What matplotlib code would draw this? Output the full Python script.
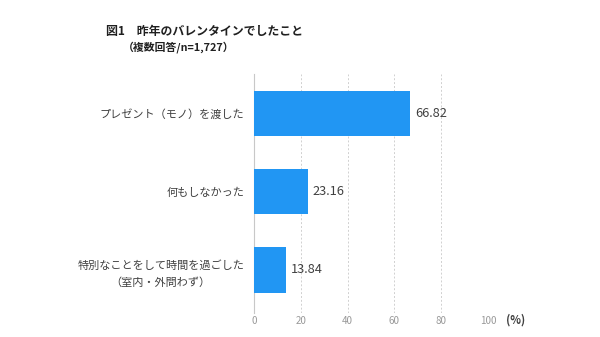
import numpy as np
import matplotlib.pyplot as plt

plt.rcParams['font.family'] = ['Noto Sans CJK JP', 'DejaVu Sans']

categories = ['プレゼント（モノ）を渡した',
              '何もしなかった',
              '特別なことをして時間を過ごした\n（室内・外問わず）']
values = [66.82, 23.16, 13.84]
xticks = [0, 20, 40, 60, 80, 100]

fig = plt.figure(figsize=(6, 3.37), dpi=100)
ax = fig.add_axes([254 / 600, 1 - 313 / 337, 234 / 600, 239 / 337])

y = np.arange(len(categories))
ax.barh(y, values, height=0.58, color='#2196F3', zorder=3)
for yi, v in zip(y, values):
    ax.text(v + 2, yi, f'{v:.2f}', va='center', ha='left',
            fontsize=9.2, color='#404040')

ax.set_xlim(0, 100)
ax.set_ylim(2.55, -0.505)
ax.set_xticks(xticks)
ax.set_xticklabels([str(t) for t in xticks], fontsize=7, color='#999999')
ax.tick_params(axis='x', length=0, pad=2)
ax.set_yticks(y)
ax.set_yticklabels(categories, fontsize=8, color='#404040',
                   linespacing=1.7)
ax.tick_params(axis='y', length=0, pad=7)
for lab in ax.get_yticklabels():
    lab.set_multialignment('center')

ax.grid(axis='x', color='#d0d0d0', linestyle=(0, (2, 2)), linewidth=0.7, zorder=0)
for s in ['top', 'right', 'bottom']:
    ax.spines[s].set_visible(False)
ax.spines['left'].set_color('#c8c8c8')
ax.spines['left'].set_linewidth(0.8)

fig.text(506 / 600, 1 - 320 / 337, '(%)', fontsize=8, color='#404040',
         va='center', ha='left', fontweight='bold')
fig.text(106 / 600, 1 - 32 / 337, '図1　昨年のバレンタインでしたこと',
         fontsize=8.6, fontweight='bold', color='#202020', va='center')
fig.text(123 / 600, 1 - 47 / 337, '（複数回答/n=1,727）',
         fontsize=7.8, fontweight='bold', color='#202020', va='center')

fig.savefig('out.png', dpi=100, facecolor='white')
